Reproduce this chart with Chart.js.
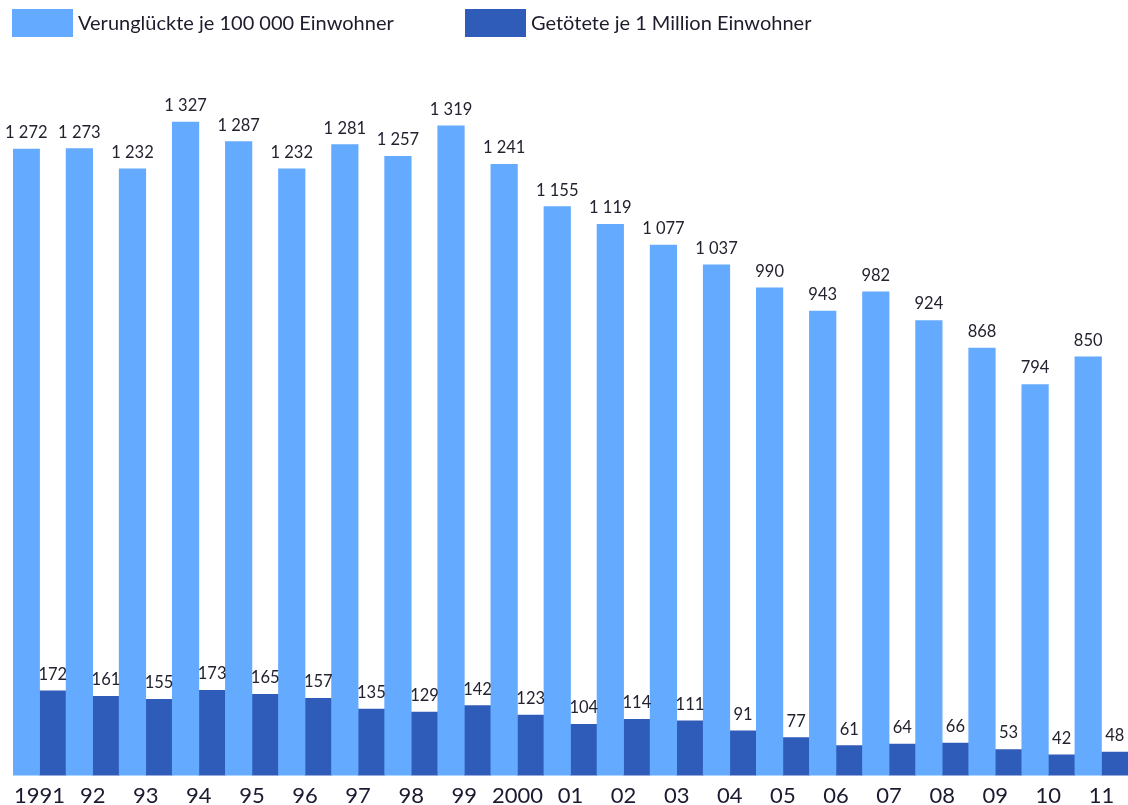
<!DOCTYPE html>
<html>
<head>
<meta charset="utf-8">
<script src="https://cdn.jsdelivr.net/npm/chart.js@4.4.1/dist/chart.umd.min.js"></script>
<style>
html,body{margin:0;padding:0;background:#fff;}
#wrap{width:1128px;height:805px;position:relative;}
</style>
</head>
<body>
<div id="wrap"><canvas id="c" width="1128" height="805"></canvas></div>
<script>
const categories = ["1991","92","93","94","95","96","97","98","99","2000","01","02","03","04","05","06","07","08","09","10","11"];
const verunglueckte = [1272,1273,1232,1327,1287,1232,1281,1257,1319,1241,1155,1119,1077,1037,990,943,982,924,868,794,850];
const getoetete = [172,161,155,173,165,157,135,129,142,123,104,114,111,91,77,61,64,66,53,42,48];
const seriesNames = ["Verunglückte je 100 000 Einwohner","Getötete je 1 Million Einwohner"];
const seriesColors = ["#64aaff","#2f5cb9"];

const FONT = "Lato, 'Open Sans', sans-serif";
function fmt(v){ return String(v).replace(/\B(?=(\d{3})+(?!\d))/g, " "); }

const valueLabels = {
  id: 'valueLabels',
  afterDatasetsDraw(chart){
    const ctx = chart.ctx;
    ctx.save();
    ctx.font = "16.5px " + FONT;
    ctx.fillStyle = "#222230";
    ctx.textAlign = "center";
    ctx.textBaseline = "alphabetic";
    chart.data.datasets.forEach((ds, i) => {
      const meta = chart.getDatasetMeta(i);
      meta.data.forEach((el, j) => {
        ctx.fillText(fmt(ds.data[j]), el.x, el.y - 11);
      });
    });
    ctx.restore();
  }
};

const customLegend = {
  id: 'customLegend',
  afterDraw(chart){
    const ctx = chart.ctx;
    ctx.save();
    const xs = [12, 465];
    ctx.font = "20px " + FONT;
    ctx.textBaseline = "middle";
    ctx.textAlign = "left";
    chart.data.datasets.forEach((ds, i) => {
      ctx.fillStyle = ds.backgroundColor;
      ctx.fillRect(xs[i], 9, 61, 28);
      ctx.fillStyle = "#1c1c2c";
      ctx.fillText(ds.label, xs[i] + 66, 24);
    });
    ctx.restore();
  }
};

new Chart(document.getElementById('c'), {
  type: 'bar',
  data: {
    labels: categories,
    datasets: [
      { label: seriesNames[0], data: verunglueckte, backgroundColor: seriesColors[0], borderWidth: 0 },
      { label: seriesNames[1], data: getoetete, backgroundColor: seriesColors[1], borderWidth: 0 }
    ]
  },
  options: {
    responsive: false,
    animation: false,
    devicePixelRatio: 1,
    layout: { padding: { top: 86, left: 13, right: 0, bottom: -11 } },
    categoryPercentage: 1.0,
    barPercentage: 1.0,
    plugins: {
      legend: { display: false },
      tooltip: { enabled: false }
    },
    scales: {
      x: {
        grid: { display: false, drawTicks: false },
        border: { display: false },
        ticks: { color: "#1a1a30", font: { family: FONT, size: 22 }, padding: 7, maxRotation: 0, autoSkip: false }
      },
      y: {
        display: false,
        min: 0,
        max: 1400
      }
    }
  },
  plugins: [valueLabels, customLegend]
});
</script>
</body>
</html>
